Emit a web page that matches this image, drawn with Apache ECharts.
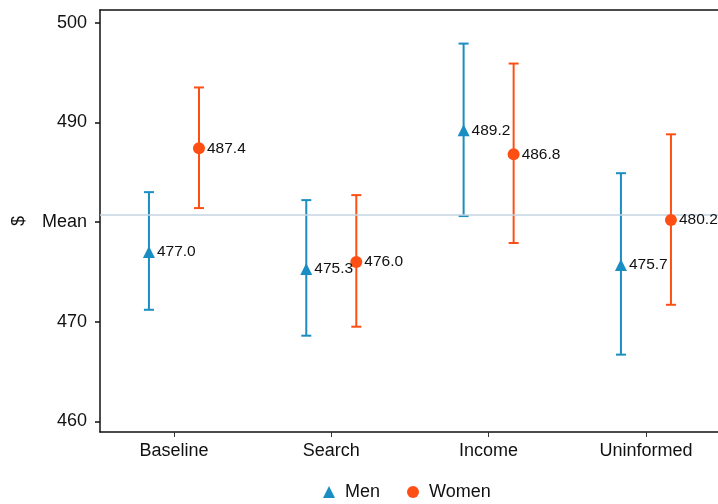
<!DOCTYPE html>
<html>
<head>
<meta charset="utf-8">
<script src="https://cdn.jsdelivr.net/npm/echarts@6/dist/echarts.min.js"></script>
<style>html,body{margin:0;padding:0;background:#fff}#c{width:718px;height:504px}</style>
</head>
<body>
<div id="c"></div>
<script>
const categories = ['Baseline', 'Search', 'Income', 'Uninformed'];
const menMean = [477.0, 475.3, 489.2, 475.7];
const menLow = [471.2, 468.6, 480.6, 466.7];
const menHigh = [483.0, 482.2, 497.9, 484.9];
const womenMean = [487.4, 476.0, 486.8, 480.2];
const womenLow = [481.4, 469.5, 477.9, 471.7];
const womenHigh = [493.5, 482.7, 495.9, 488.8];
const yTicks = [460, 470, 480, 490, 500];
const yTickLabels = ['460', '470', 'Mean', '490', '500'];
const meanLineValue = 480.7;
const seriesNames = ['Men', 'Women'];

const MEN = '#1a8dc2';
const WOMEN = '#fd4f14';
const OFFSET = 0.159;
const FONT = 'Liberation Sans, Arial, sans-serif';

const chart = echarts.init(document.getElementById('c'), null, {renderer: 'canvas'});

function pts(means, sign) {
  return means.map((v, i) => [i + 1 + sign * OFFSET, v]);
}
function bars(lo, hi, sign) {
  return lo.map((v, i) => [i + 1 + sign * OFFSET, v, hi[i]]);
}
function errRender(color) {
  return function (params, api) {
    const x = api.value(0);
    const a = api.coord([x, api.value(1)]);
    const b = api.coord([x, api.value(2)]);
    const w = 5;
    const st = {stroke: color, lineWidth: 2};
    return {
      type: 'group',
      children: [
        {type: 'line', shape: {x1: a[0], y1: a[1], x2: b[0], y2: b[1]}, style: st},
        {type: 'line', shape: {x1: a[0] - w, y1: a[1], x2: a[0] + w, y2: a[1]}, style: st},
        {type: 'line', shape: {x1: b[0] - w, y1: b[1], x2: b[0] + w, y2: b[1]}, style: st}
      ]
    };
  };
}

const labelCfg = {
  show: true, position: 'right', distance: 2,
  color: '#111', fontSize: 15.5, fontFamily: FONT,
  formatter: p => p.value[1].toFixed(1)
};

chart.setOption({
  animation: false,
  backgroundColor: '#fff',
  textStyle: {fontFamily: FONT},
  grid: {left: 100, right: 0, top: 10, bottom: 72, containLabel: false, outerBoundsMode: 'none'},
  legend: {
    left: 318, top: 478,
    itemWidth: 12, itemHeight: 12, itemGap: 27,
    textStyle: {fontSize: 18, color: '#111', fontFamily: FONT, padding: [0, 0, 0, 5]},
    data: [
      {name: seriesNames[0], icon: 'triangle', itemStyle: {color: MEN}},
      {name: seriesNames[1], icon: 'circle', itemStyle: {color: WOMEN}}
    ]
  },
  xAxis: [{
    type: 'value', min: 0.5299, max: 4.458, position: 'bottom',
    splitLine: {show: false},
    axisLine: {show: true, onZero: false, lineStyle: {color: '#111', width: 1.5}},
    axisTick: {show: true, length: 5, customValues: [1, 2, 3, 4], lineStyle: {color: '#333'}},
    axisLabel: {
      customValues: [1, 2, 3, 4], margin: 10, fontSize: 18, color: '#111', fontFamily: FONT,
      formatter: v => categories[Math.round(v) - 1] || ''
    }
  }, {
    type: 'value', min: 0.5299, max: 4.458, position: 'top',
    splitLine: {show: false},
    axisLine: {show: true, onZero: false, lineStyle: {color: '#111', width: 1.5}},
    axisTick: {show: false}, axisLabel: {show: false}
  }],
  yAxis: {
    type: 'value', min: 458.94, max: 501.27,
    name: '$', nameLocation: 'middle', nameRotate: 90, nameGap: 72,
    nameTextStyle: {fontSize: 18, color: '#111', fontFamily: FONT},
    splitLine: {show: false},
    axisLine: {show: true, onZero: false, lineStyle: {color: '#111', width: 1.5}},
    axisTick: {show: true, length: 5, customValues: yTicks, lineStyle: {color: '#111', width: 1.5}},
    axisLabel: {
      customValues: yTicks, margin: 13, fontSize: 18, color: '#111', fontFamily: FONT,
      formatter: v => {
        const i = yTicks.indexOf(Math.round(v));
        return i >= 0 ? yTickLabels[i] : '';
      }
    }
  },
  series: [
    {
      name: 'meanline', type: 'line', data: [], silent: true,
      markLine: {
        silent: true, symbol: 'none', label: {show: false},
        lineStyle: {color: '#c5d5e0', width: 1.5, type: 'solid'},
        data: [{yAxis: meanLineValue}]
      }
    },
    {name: seriesNames[0] + ' CI', type: 'custom', renderItem: errRender(MEN), data: bars(menLow, menHigh, -1), z: 3},
    {name: seriesNames[1] + ' CI', type: 'custom', renderItem: errRender(WOMEN), data: bars(womenLow, womenHigh, 1), z: 3},
    {
      name: seriesNames[0], type: 'scatter', symbol: 'triangle', symbolSize: 12,
      itemStyle: {color: MEN, opacity: 1}, data: pts(menMean, -1), label: labelCfg, z: 5
    },
    {
      name: seriesNames[1], type: 'scatter', symbol: 'circle', symbolSize: 12,
      itemStyle: {color: WOMEN, opacity: 1}, data: pts(womenMean, 1), label: labelCfg, z: 5
    }
  ]
});
</script>
</body>
</html>
